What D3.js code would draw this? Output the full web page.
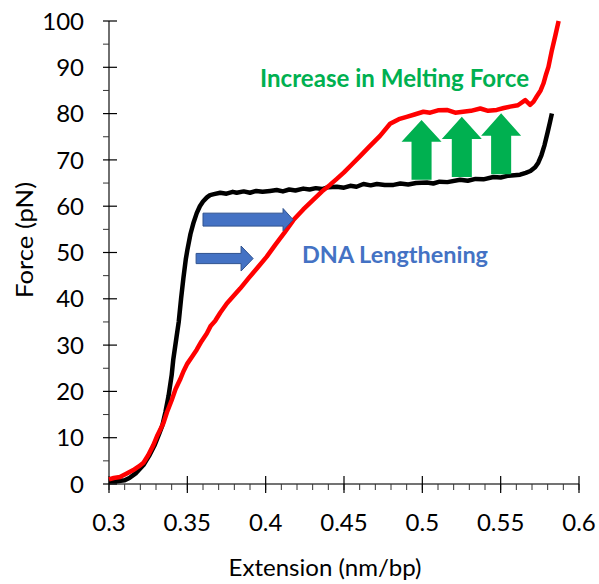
<!DOCTYPE html>
<html>
<head>
<meta charset="utf-8">
<script src="https://cdn.jsdelivr.net/npm/d3@7"></script>
<style>
  body { margin: 0; background: #fff; }
  text { font-family: Lato, "Open Sans", sans-serif; }
</style>
</head>
<body>
<svg></svg>
<script>
// extension (nm/bp), force (pN)
const blackX = [0.300, 0.305, 0.310, 0.313, 0.317, 0.322, 0.326, 0.329, 0.332, 0.334, 0.336, 0.338, 0.340, 0.341, 0.343, 0.3445, 0.346, 0.3475, 0.349, 0.350, 0.352, 0.354, 0.356, 0.358, 0.360, 0.3625, 0.3645, 0.367, 0.371, 0.375, 0.379, 0.3815, 0.386, 0.390, 0.394, 0.398, 0.4028, 0.407, 0.411, 0.415, 0.419, 0.424, 0.428, 0.432, 0.436, 0.440, 0.4454, 0.450, 0.454, 0.458, 0.4624, 0.467, 0.471, 0.476, 0.4816, 0.486, 0.491, 0.496, 0.5029, 0.507, 0.511, 0.516, 0.5241, 0.529, 0.534, 0.539, 0.5454, 0.550, 0.555, 0.5624, 0.566, 0.569, 0.572, 0.574, 0.576, 0.578, 0.580, 0.5815, 0.5827];
const blackY = [0.6, 0.6, 0.8, 1.3, 2.3, 4.1, 6.3, 8.3, 10.8, 12.6, 15.5, 19.0, 23.5, 26.8, 31.5, 35.0, 40.0, 44.5, 48.5, 50.5, 54.0, 56.5, 58.5, 60.0, 61.0, 61.9, 62.4, 62.6, 62.9, 62.7, 63.1, 62.9, 63.2, 62.9, 63.3, 63.1, 63.3, 63.5, 63.2, 63.6, 63.4, 63.8, 63.6, 63.9, 63.7, 64.1, 64.2, 64.0, 64.4, 64.2, 64.8, 64.5, 64.8, 64.6, 64.6, 64.9, 64.7, 65.0, 65.1, 64.9, 65.3, 65.2, 65.7, 65.5, 65.9, 65.8, 66.3, 66.2, 66.6, 66.8, 67.2, 67.6, 68.4, 69.4, 71.0, 73.2, 76.0, 78.2, 80.0];

const redX = [0.300, 0.303, 0.307, 0.311, 0.3155, 0.319, 0.322, 0.325, 0.3283, 0.331, 0.3347, 0.337, 0.340, 0.3425, 0.3453, 0.3475, 0.350, 0.353, 0.356, 0.359, 0.3624, 0.365, 0.3677, 0.371, 0.3752, 0.380, 0.3837, 0.389, 0.3945, 0.4007, 0.406, 0.412, 0.4177, 0.424, 0.4305, 0.436, 0.441, 0.4454, 0.450, 0.455, 0.4603, 0.466, 0.473, 0.4794, 0.485, 0.490, 0.495, 0.5007, 0.505, 0.510, 0.5156, 0.521, 0.526, 0.531, 0.537, 0.542, 0.5475, 0.552, 0.556, 0.561, 0.5657, 0.5688, 0.571, 0.573, 0.5755, 0.5773, 0.579, 0.5805, 0.5827, 0.585, 0.587];
const redY = [1.0, 1.3, 1.5, 2.2, 3.0, 3.8, 4.6, 6.2, 8.4, 10.6, 13.1, 15.5, 18.1, 20.5, 22.5, 24.3, 26.0, 27.5, 29.0, 30.8, 32.5, 34.2, 35.2, 37.0, 39.0, 40.8, 42.2, 44.4, 46.6, 49.1, 51.6, 54.3, 57.0, 59.3, 61.4, 63.2, 64.6, 65.9, 67.3, 69.0, 70.8, 72.8, 75.2, 77.8, 78.8, 79.3, 79.8, 80.4, 80.2, 80.7, 80.8, 80.2, 80.4, 80.6, 81.1, 80.6, 80.8, 81.2, 81.5, 81.8, 82.9, 81.9, 82.6, 83.7, 85.0, 86.5, 88.5, 90.1, 93.7, 97.0, 100.0];

const xTicks = [0.3, 0.35, 0.4, 0.45, 0.5, 0.55, 0.6];
const yTicks = [0, 10, 20, 30, 40, 50, 60, 70, 80, 90, 100];

// annotation arrows, in data units
const blueArrows = [
  { x0: 0.3600, x1: 0.4175, head: 0.4111, y: 57.1, shaft: 1.4, half: 2.4 },
  { x0: 0.3556, x1: 0.3920, head: 0.3843, y: 48.7, shaft: 1.1, half: 2.7 }
];
const greenArrows = [
  { x: 0.4995, tip: 78.6, base: 73.9, bottom: 65.7 },
  { x: 0.5252, tip: 79.3, base: 74.5, bottom: 66.3 },
  { x: 0.5503, tip: 80.1, base: 75.2, bottom: 66.9 }
];

const width = 599;
const height = 584;

const svg = d3.select('svg')
    .attr('width', width)
    .attr('height', height);

const x = d3.scaleLinear().domain([0.3, 0.6]).range([109, 579]);
const y = d3.scaleLinear().domain([0, 100]).range([484, 21]);

// axes
const xAxis = svg.append('g').attr('transform', `translate(0,${y(0)})`);
xAxis.append('line')
    .attr('x1', x(0.3)).attr('x2', x(0.6))
    .attr('stroke', '#444').attr('stroke-width', 1.5);
xAxis.selectAll('.minor')
    .data(d3.range(30, 61).map(d => d / 100))
    .enter().append('line')
    .attr('x1', d => x(d)).attr('x2', d => x(d))
    .attr('y1', 0).attr('y2', 6)
    .attr('stroke', '#333').attr('stroke-width', 1);
xAxis.selectAll('.major')
    .data(xTicks)
    .enter().append('line')
    .attr('x1', d => x(d)).attr('x2', d => x(d))
    .attr('y1', -8).attr('y2', 9)
    .attr('stroke', '#000').attr('stroke-width', 1.2);
xAxis.selectAll('text')
    .data(xTicks)
    .enter().append('text')
    .attr('x', d => x(d)).attr('y', 47)
    .attr('text-anchor', 'middle')
    .attr('font-size', 24)
    .text(d => d);

const yAxis = svg.append('g').attr('transform', `translate(${x(0.3)},0)`);
yAxis.append('line')
    .attr('y1', y(0)).attr('y2', y(100))
    .attr('stroke', '#222').attr('stroke-width', 1.3);
yAxis.selectAll('.minor')
    .data(d3.range(5, 100, 10))
    .enter().append('line')
    .attr('y1', d => y(d)).attr('y2', d => y(d))
    .attr('x1', -6).attr('x2', 0)
    .attr('stroke', '#333').attr('stroke-width', 1);
yAxis.selectAll('.major')
    .data(yTicks)
    .enter().append('line')
    .attr('y1', d => y(d)).attr('y2', d => y(d))
    .attr('x1', -6).attr('x2', 8)
    .attr('stroke', '#000').attr('stroke-width', 1.2);
yAxis.selectAll('text')
    .data(yTicks)
    .enter().append('text')
    .attr('x', -25).attr('y', d => y(d))
    .attr('dy', '0.36em')
    .attr('text-anchor', 'end')
    .attr('font-size', 24)
    .text(d => d);

svg.append('text')
    .attr('x', 325).attr('y', 576)
    .attr('text-anchor', 'middle')
    .attr('font-size', 24)
    .attr('textLength', 193)
    .attr('lengthAdjust', 'spacingAndGlyphs')
    .text('Extension (nm/bp)');

svg.append('text')
    .attr('transform', 'translate(33,240) rotate(-90)')
    .attr('text-anchor', 'middle')
    .attr('font-size', 24)
    .attr('textLength', 116)
    .attr('lengthAdjust', 'spacingAndGlyphs')
    .text('Force (pN)');

// curves
const line = d3.line()
    .x(d => x(d[0]))
    .y(d => y(d[1]))
    .curve(d3.curveLinear);

svg.append('path')
    .datum(d3.zip(blackX, blackY))
    .attr('d', line)
    .attr('fill', 'none')
    .attr('stroke', '#000')
    .attr('stroke-width', 4.5)
    .attr('stroke-linejoin', 'round');

svg.append('path')
    .datum(d3.zip(redX, redY))
    .attr('d', line)
    .attr('fill', 'none')
    .attr('stroke', '#ff0000')
    .attr('stroke-width', 4.5)
    .attr('stroke-linejoin', 'round');

// blue arrows
svg.selectAll('.blue')
    .data(blueArrows)
    .enter().append('path')
    .attr('d', a => {
        const pts = [
            [a.x0, a.y + a.shaft], [a.head, a.y + a.shaft], [a.head, a.y + a.half],
            [a.x1, a.y], [a.head, a.y - a.half], [a.head, a.y - a.shaft], [a.x0, a.y - a.shaft]
        ];
        return 'M' + pts.map(p => [x(p[0]), y(p[1])].join(',')).join('L') + 'Z';
    })
    .attr('fill', '#4472c4')
    .attr('stroke', '#2f528f')
    .attr('stroke-width', 1);

// green arrows
const headHalf = 0.01277;
const shaftHalf = 0.0064;
svg.selectAll('.green')
    .data(greenArrows)
    .enter().append('path')
    .attr('d', a => {
        const pts = [
            [a.x - shaftHalf, a.bottom], [a.x - shaftHalf, a.base], [a.x - headHalf, a.base],
            [a.x, a.tip], [a.x + headHalf, a.base], [a.x + shaftHalf, a.base], [a.x + shaftHalf, a.bottom]
        ];
        return 'M' + pts.map(p => [x(p[0]), y(p[1])].join(',')).join('L') + 'Z';
    })
    .attr('fill', '#00b050');

svg.append('text')
    .attr('x', 260).attr('y', 86.5)
    .attr('font-size', 25)
    .attr('font-weight', 'bold')
    .attr('fill', '#00b050')
    .attr('textLength', 269)
    .attr('lengthAdjust', 'spacingAndGlyphs')
    .text('Increase in Melting Force');

svg.append('text')
    .attr('x', 302).attr('y', 263)
    .attr('font-size', 23)
    .attr('font-weight', 'bold')
    .attr('fill', '#4472c4')
    .attr('textLength', 186)
    .attr('lengthAdjust', 'spacingAndGlyphs')
    .text('DNA Lengthening');
</script>
</body>
</html>
